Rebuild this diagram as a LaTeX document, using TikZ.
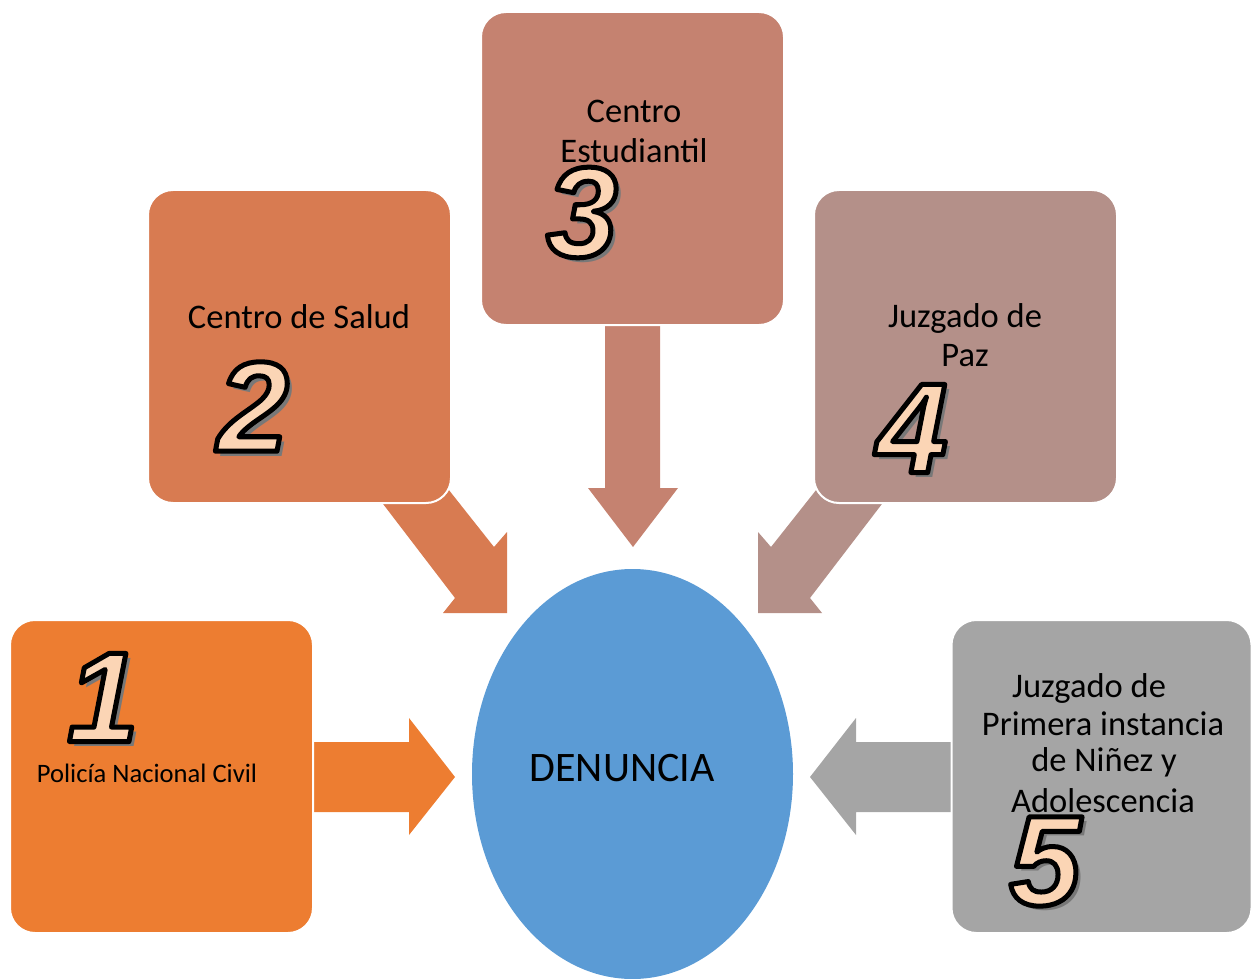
\documentclass[tikz,border=0pt]{standalone}
\usepackage{fontspec}
\setmainfont{Carlito}
\newfontfamily\numfont{Liberation Sans}
\usetikzlibrary{calc}
\definecolor{cA}{RGB}{237,125,49}
\definecolor{cB}{RGB}{216,123,81}
\definecolor{cC}{RGB}{197,130,112}
\definecolor{cD}{RGB}{180,144,137}
\definecolor{cE}{RGB}{165,165,165}
\definecolor{cEll}{RGB}{91,155,213}
\definecolor{peach}{RGB}{251,213,181}
\definecolor{shadowgray}{RGB}{120,120,120}
\tikzset{
  box/.style={rectangle, rounded corners=25pt, draw=white, line width=2pt,
    minimum width=#1, minimum height=313pt, inner sep=0pt},
  lbl/.style={inner sep=0pt, font=\fontsize{34.5}{40}\selectfont, align=center, text=black},
  numtxt/.style={inner sep=0pt, font=\numfont\bfseries\itshape\fontsize{128}{128}\selectfont},
}
\newcommand\outl[1]{\special{pdf:literal direct 2 Tr 5 w 1 j 0 0 0 RG}#1\special{pdf:literal direct 0 Tr}}
\newcommand\bignum[3]{%
  \node[numtxt, text=peach] (#3) at (#1)
    {\makebox[0pt][l]{\hspace{5pt}\raisebox{-5pt}{\textcolor{shadowgray}{#2}}}\outl{#2}};
}
\begin{document}
\begin{tikzpicture}[x=1pt,y=-1pt]
\useasboundingbox (0,0) rectangle (1251,979);
% block arrows
\fill[cB] (354,466) -- (418,451) -- (494,547) -- (507,532) -- (507,613) -- (443,613) -- (455,598) -- cycle;
\fill[cD] (911,466) -- (847,451) -- (771,547) -- (758,532) -- (758,613) -- (822,613) -- (810,598) -- cycle;
\fill[cC] (605,300) -- (660,300) -- (660,488) -- (678,488) -- (633,547) -- (588,488) -- (605,488) -- cycle;
\fill[cA] (300,742) -- (409,742) -- (409,718) -- (455,777) -- (409,835) -- (409,812) -- (300,812) -- cycle;
\fill[cE] (960,742) -- (856,742) -- (856,718) -- (810,777) -- (856,835) -- (856,812) -- (960,812) -- cycle;
% boxes
\node[box=303pt, fill=cA] (b1) at (161.5,776.5) {};
\node[box=303pt, fill=cB] (b2) at (299.5,346.5) {};
\node[box=303pt, fill=cC] (b3) at (632.5,168.5) {};
\node[box=303pt, fill=cD] (b4) at (965.5,346.5) {};
\node[box=300pt, fill=cE] (b5) at (1101.5,776.5) {};
% ellipse
\fill[cEll] (632.5,774) ellipse (160.5 and 205);
\node[inner sep=0pt, font=\fontsize{42}{42}\selectfont] (den) at (622,768) {DENUNCIA};
% labels
\node[lbl] (t2) at (299,317) {Centro de Salud};
\node[lbl] (t3a) at (634,111) {Centro};
\node[lbl] (t3b) at (634,151) {Estudiantil};
\node[lbl] (t4a) at (965,318) {Juzgado de};
\node[lbl] (t4b) at (965,356) {Paz};
\node[lbl, font=\fontsize{26.6}{30}\selectfont] (t1) at (147,773) {Policía Nacional Civil};
\node[lbl] (t5a) at (1089,688) {Juzgado de};
\node[lbl] (t5b) at (1103,724) {Primera instancia};
\node[lbl] (t5c) at (1104,762) {de Niñez y};
\node[lbl] (t5d) at (1103,801) {Adolescencia};
% numbers
\bignum{103,700}{1}{n1}
\bignum{253,409}{2}{n2}
\bignum{582,215}{3}{n3}
\bignum{912,431}{4}{n4}
\bignum{1045,864}{5}{n5}
\end{tikzpicture}
\end{document}
